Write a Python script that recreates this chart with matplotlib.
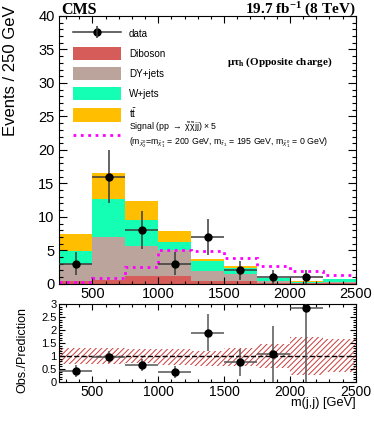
import numpy as np
import matplotlib
matplotlib.use("Agg")
import matplotlib.pyplot as plt
from matplotlib.patches import Patch
from matplotlib.lines import Line2D
from matplotlib.ticker import MultipleLocator

plt.rcParams['font.family'] = 'Liberation Sans'
plt.rcParams['mathtext.fontset'] = 'custom'
plt.rcParams['mathtext.rm'] = 'Liberation Sans'
plt.rcParams['mathtext.it'] = 'Liberation Sans:italic'
plt.rcParams['mathtext.bf'] = 'Liberation Sans:bold'
plt.rcParams['hatch.linewidth'] = 0.7

# binning in m(j,j)
edges = np.array([250, 500, 750, 1000, 1250, 1500, 1750, 2000, 2250, 2500])

# backgrounds (stacked, bottom to top)
diboson = [0.4, 0.6, 1.1, 1.1, 0.45, 0.4, 0.1, 0.05, 0.05]
dyjets = [2.6, 6.35, 4.5, 3.9, 1.5, 1.1, 0.25, 0.1, 0.15]
wjets = [1.9, 5.75, 3.95, 1.3, 1.4, 0.8, 0.5, 0.15, 0.5]
ttbar = [2.5, 3.9, 2.75, 1.6, 0.35, 0.35, 0.08, 0.05, 0.02]

signal = [0.3, 0.85, 2.55, 5.0, 4.9, 3.85, 2.7, 1.95, 1.35]

# data (first 8 bins, last bin empty)
data = [3, 16, 8, 3, 7, 2, 1, 1]
data_err = [1.73, 4.0, 2.83, 1.73, 2.65, 1.41, 1.0, 1.0]

# ratio panel
ratio = [0.42, 0.95, 0.65, 0.38, 1.9, 0.75, 1.08, 2.85]
ratio_err = [0.23, 0.24, 0.23, 0.22, 0.72, 0.53, 1.08, 2.86]
band_lo = [0.7, 0.7, 0.72, 0.65, 0.62, 0.62, 0.55, 0.25, 0.38]
band_hi = [1.3, 1.3, 1.28, 1.25, 1.2, 1.3, 1.45, 1.75, 1.65]

colors = {'Diboson': '#d65c59', 'DY+jets': '#baa49b',
          'W+jets': '#14ffb4', 'tt': '#ffbf00'}

width = np.diff(edges)
centers = edges[:-1] + width / 2
nd = len(data)

fig = plt.figure(figsize=(3.74, 4.32), dpi=100)
ax = fig.add_axes([0.159, 0.343, 0.792, 0.62])
rx = fig.add_axes([0.159, 0.116, 0.792, 0.18])

bottom = np.zeros(len(edges) - 1)
for vals, name in [(diboson, 'Diboson'), (dyjets, 'DY+jets'),
                   (wjets, 'W+jets'), (ttbar, 'tt')]:
    ax.bar(edges[:-1], vals, width=width, bottom=bottom, align='edge',
           color=colors[name], linewidth=0, zorder=1)
    bottom = bottom + np.array(vals)

ax.stairs(signal, edges, color='#ff00ff', linestyle=':', linewidth=2,
          baseline=None, zorder=2)

ax.errorbar(centers[:nd], data, xerr=width[:nd] / 2, yerr=data_err, fmt='o',
            color='k', ecolor='#3a3a3a', elinewidth=1.1, capsize=0, ms=5,
            zorder=3)

ax.set_xlim(250, 2500)
ax.set_ylim(0, 40)
ax.yaxis.set_major_locator(MultipleLocator(5))
ax.yaxis.set_minor_locator(MultipleLocator(1))
ax.xaxis.set_major_locator(MultipleLocator(500))
ax.xaxis.set_minor_locator(MultipleLocator(100))
ax.tick_params(which='both', direction='in', top=True, right=True,
               labelsize=10.5, width=0.8)
ax.tick_params(which='major', axis='y', length=6)
ax.tick_params(which='minor', axis='y', length=3)
ax.tick_params(which='major', axis='x', length=5)
ax.tick_params(which='minor', axis='x', length=2.5)
ax.tick_params(axis='x', pad=2)
ax.set_ylabel('Events / 250 GeV', fontsize=12, loc='top')
ax.yaxis.set_label_coords(-0.14, 1.04)

ax.text(0.005, 1.008, 'CMS', transform=ax.transAxes,
        family='Liberation Serif', weight='bold', fontsize=11.5,
        va='baseline')
ax.text(1.0, 1.008, r'19.7 fb$\mathregular{^{-1}}$ (8 TeV)',
        transform=ax.transAxes, family='Liberation Serif', weight='bold',
        fontsize=11, va='baseline', ha='right')
ax.text(0.565, 0.828, r'$\mathregular{\mu\tau_{h}}$ (Opposite charge)',
        transform=ax.transAxes, family='Liberation Serif', weight='bold',
        fontsize=8, va='center')

handles = [
    (Line2D([], [], color='#3a3a3a', lw=1.1, marker='o', ms=5,
            mfc='k', mec='k'),
     Line2D([], [], color='#3a3a3a', marker='|', ms=9, ls='none',
            mew=1.1)),
    Patch(facecolor=colors['Diboson'], edgecolor='none'),
    Patch(facecolor=colors['DY+jets'], edgecolor='none'),
    Patch(facecolor=colors['W+jets'], edgecolor='none'),
    Patch(facecolor=colors['tt'], edgecolor='none'),
]
labels = ['data', 'Diboson', 'DY+jets', 'W+jets', r'$\mathregular{t\bar{t}}$']
leg = ax.legend(handles, labels, loc='upper left',
                bbox_to_anchor=(0.046, 0.959), frameon=False, fontsize=7.1,
                handlelength=4.85, handleheight=1.75, labelspacing=0.63,
                handletextpad=0.8, borderpad=0, borderaxespad=0)
ax.add_artist(leg)

sig_label = (
    r'Signal (pp $\mathregular{\rightarrow}$ $\mathregular{\tilde{\chi}\tilde{\chi}}$jj) $\mathregular{\times}$ 5'
    '\n'
    r'(m$_{\tilde{\chi}^{0}_{2}}$=m$_{\tilde{\chi}^{\pm}_{1}}$ = 200 GeV, '
    r'm$_{\tilde{\tau}_{1}}$ = 195 GeV, m$_{\tilde{\chi}^{0}_{1}}$ = 0 GeV)'
)
ax.legend([Line2D([], [], color='#ff00ff', ls=':', lw=2)], [sig_label],
          loc='upper left', bbox_to_anchor=(0.046, 0.612), frameon=False,
          fontsize=6.3, handlelength=5.5, handletextpad=0.9, borderpad=0,
          borderaxespad=0)

# ratio panel
rx.bar(edges[:-1], np.array(band_hi) - np.array(band_lo), width=width,
       bottom=band_lo, align='edge', fill=False, hatch='//////',
       edgecolor='#c83c3c', linewidth=0, zorder=1)
rx.axhline(1, color='k', ls='--', lw=1, zorder=2)
rx.errorbar(centers[:nd], ratio, xerr=width[:nd] / 2, yerr=ratio_err,
            fmt='o', color='k', ecolor='#555555', elinewidth=1.1, capsize=0,
            ms=5, zorder=3)
rx.set_xlim(250, 2500)
rx.set_ylim(0, 3)
rx.yaxis.set_major_locator(MultipleLocator(0.5))
rx.yaxis.set_minor_locator(MultipleLocator(0.1))
rx.xaxis.set_major_locator(MultipleLocator(500))
rx.xaxis.set_minor_locator(MultipleLocator(100))
rx.yaxis.set_major_formatter(lambda v, p: f'{v:g}')
rx.tick_params(which='both', direction='in', top=True, right=True, width=0.8)
rx.tick_params(axis='y', labelsize=8, pad=2)
rx.tick_params(axis='x', labelsize=10, pad=2)
rx.tick_params(which='major', length=4)
rx.tick_params(which='minor', length=2)
rx.set_ylabel('Obs./Prediction', fontsize=9, loc='top')
rx.yaxis.set_label_coords(-0.105, 0.96)
rx.set_xlabel('m(j,j) [GeV]', fontsize=9.2, loc='right')
rx.xaxis.set_label_coords(1.0, -0.2)

for a in (ax, rx):
    for s in a.spines.values():
        s.set_linewidth(0.8)

fig.savefig('out.png', dpi=100)
